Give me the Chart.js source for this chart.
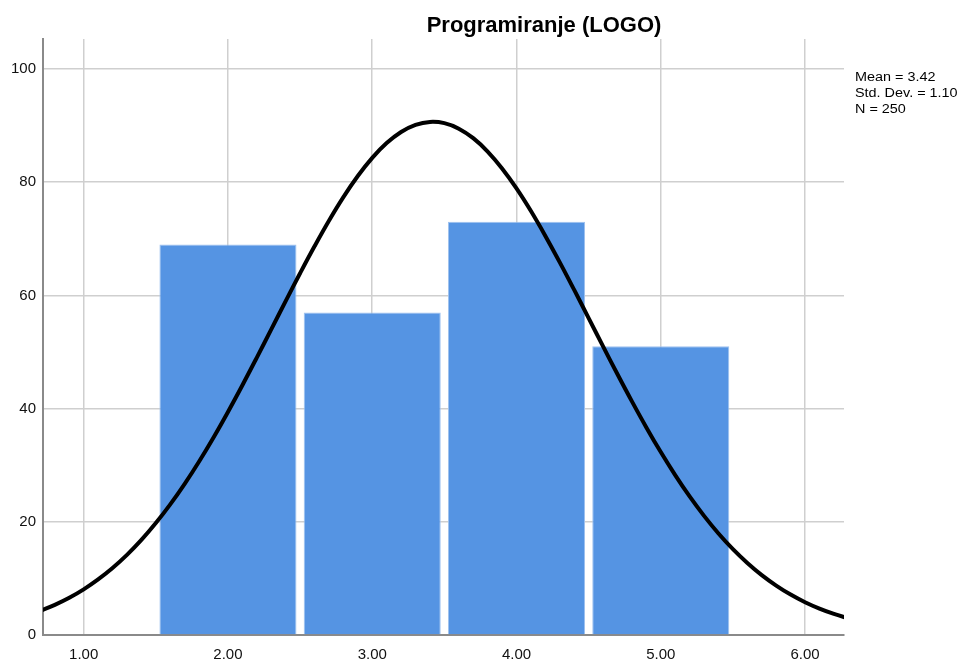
<!DOCTYPE html>
<html>
<head>
<meta charset="utf-8">
<script src="https://cdn.jsdelivr.net/npm/chart.js@4.4.1/dist/chart.umd.min.js"></script>
<style>
html,body{margin:0;padding:0;background:#fff;}
#wrap{width:968px;height:661px;position:relative;}
</style>
</head>
<body>
<div id="wrap"><canvas id="c" width="968" height="661"></canvas></div>
<script>
// Histogram bins (bin centres) and counts
const binCenters = [2, 3, 4, 5];
const counts = [69, 57, 73, 51];
// Normal curve
const curveX = [0.7,0.8,0.9,1.0,1.1,1.2,1.3,1.4,1.5,1.6,1.7,1.8,1.9,2.0,2.1,2.2,2.3,2.4,2.5,2.6,2.7,2.8,2.9,3.0,3.1,3.2,3.3,3.4,3.5,3.6,3.7,3.8,3.9,4.0,4.1,4.2,4.3,4.4,4.5,4.6,4.7,4.8,4.9,5.0,5.1,5.2,5.3,5.4,5.5,5.6,5.7,5.8,5.9,6.0,6.1,6.2,6.3];
const curveY = [4.27,5.32,6.57,8.06,9.81,11.83,14.15,16.79,19.77,23.07,26.70,30.65,34.90,39.41,44.13,49.02,54.00,58.99,63.91,68.67,73.19,77.36,81.09,84.30,86.91,88.87,90.13,90.65,90.43,89.46,87.78,85.42,82.43,78.90,74.90,70.51,65.84,60.97,55.99,51.00,46.07,41.28,36.68,32.32,28.25,24.48,21.05,17.94,15.17,12.73,10.58,8.73,7.14,5.79,4.66,3.72,2.94];
const xTicks = [1, 2, 3, 4, 5, 6];
const yTicks = [0, 20, 40, 60, 80, 100];
const title = 'Programiranje (LOGO)';
const stats = ['Mean = 3.42', 'Std. Dev. = 1.10', 'N = 250'];

const textPlugin = {
  id: 'texts',
  afterDraw(chart) {
    const ctx = chart.ctx;
    ctx.save();
    ctx.fillStyle = '#000';
    ctx.font = 'bold 22px "Liberation Sans", Arial, sans-serif';
    ctx.textAlign = 'center';
    ctx.textBaseline = 'alphabetic';
    ctx.fillText(title, 544, 32);
    ctx.restore();
    ctx.save();
    ctx.fillStyle = '#000';
    ctx.font = '12px "Liberation Sans", Arial, sans-serif';
    ctx.textAlign = 'left';
    ctx.textBaseline = 'alphabetic';
    const a = chart.chartArea;
    ctx.translate(a.right + 11, 0);
    ctx.scale(1.2, 1);
    stats.forEach((s, i) => ctx.fillText(s, 0, 81 + i * 16));
    ctx.restore();
  }
};

new Chart(document.getElementById('c'), {
  type: 'bar',
  data: {
    datasets: [
      {
        type: 'line',
        data: curveX.map((x, i) => ({x: x, y: curveY[i]})),
        borderColor: '#000',
        borderWidth: 4,
        pointRadius: 0,
        tension: 0.4,
        fill: false,
        order: 0,
        clip: 0
      },
      {
        type: 'bar',
        data: binCenters.map((x, i) => ({x: x, y: counts[i]})),
        backgroundColor: '#5594e3',
        borderColor: '#9fc2ef',
        borderWidth: 1,
        categoryPercentage: 1,
        barPercentage: 0.95,
        order: 1
      }
    ]
  },
  options: {
    responsive: false,
    animation: false,
    devicePixelRatio: 1,
    layout: {padding: {left: 0, top: 39, right: 124, bottom: 0}},
    plugins: {legend: {display: false}, tooltip: {enabled: false}, title: {display: false}},
    scales: {
      x: {
        type: 'linear',
        offset: false,
        min: 0.718,
        max: 6.27,
        afterBuildTicks(s) { s.ticks = xTicks.map(v => ({value: v})); },
        afterFit(s) { s.height = 26; },
        ticks: {
          callback: v => Number(v).toFixed(2),
          color: '#111',
          font: {family: '"Liberation Sans", Arial, sans-serif', size: 15},
          padding: 11,
          maxRotation: 0,
          autoSkip: false
        },
        grid: {color: '#cfcfcf', lineWidth: 1.5, drawTicks: false, offset: false},
        border: {display: true, color: '#8a8a8a', width: 2}
      },
      y: {
        type: 'linear',
        min: 0,
        max: 105.3,
        afterBuildTicks(s) { s.ticks = yTicks.map(v => ({value: v})); },
        afterFit(s) { s.width = 43; },
        ticks: {
          color: '#111',
          font: {family: '"Liberation Sans", Arial, sans-serif', size: 15},
          padding: 7
        },
        grid: {color: '#cfcfcf', lineWidth: 1.5, drawTicks: false},
        border: {display: true, color: '#8a8a8a', width: 2}
      }
    }
  },
  plugins: [textPlugin]
});
</script>
</body>
</html>
